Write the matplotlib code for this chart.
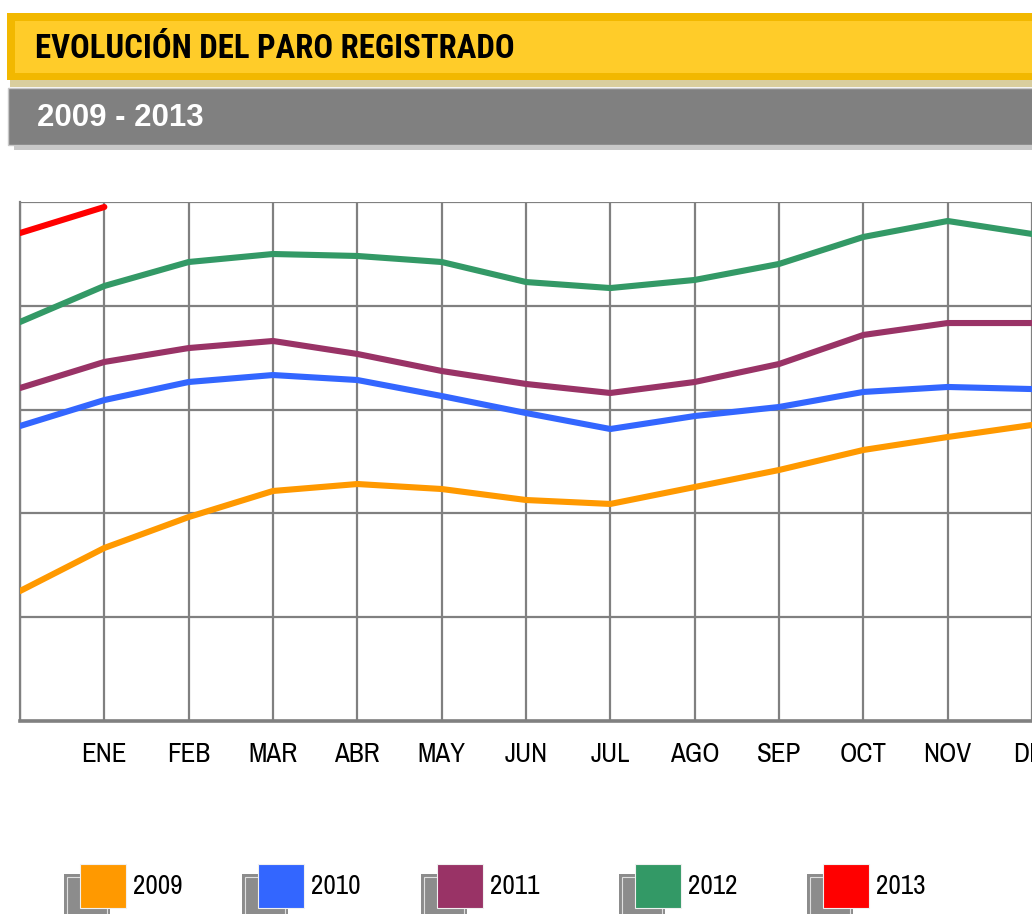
import matplotlib
matplotlib.use("Agg")
import matplotlib.pyplot as plt
from matplotlib.patches import Rectangle

W, H = 1032, 914

months = ["", "ENE", "FEB", "MAR", "ABR", "MAY", "JUN", "JUL", "AGO", "SEP", "OCT", "NOV", "DIC"]
years = ["2009", "2010", "2011", "2012", "2013"]
colors = ["#FF9900", "#3366FF", "#993366", "#339966", "#FF0000"]

s2009 = [1252, 1667, 1965, 2216, 2283, 2235, 2129, 2091, 2254, 2418, 2611, 2736, 2852]
s2010 = [2842, 3092, 3266, 3333, 3285, 3131, 2967, 2813, 2938, 3025, 3170, 3218, 3198]
s2011 = [3208, 3459, 3593, 3661, 3536, 3372, 3247, 3160, 3266, 3439, 3719, 3834, 3834]
s2012 = [3844, 4191, 4422, 4499, 4480, 4422, 4229, 4171, 4249, 4403, 4663, 4817, 4692]
s2013 = [4701, 4952]
series = [s2009, s2010, s2011, s2012, s2013]
yticks = [0, 1000, 2000, 3000, 4000, 5000]

fam = ["Archivo Narrow", "PT Sans Narrow", "DejaVu Sans"]
fam_bold = ["Roboto Condensed", "PT Sans Narrow", "DejaVu Sans"]

fig = plt.figure(figsize=(W / 100, H / 100), dpi=100)


def prect(x, y, w, h, **kw):
    r = Rectangle((x / W, 1 - (y + h) / H), w / W, h / H, transform=fig.transFigure, **kw)
    fig.patches.append(r)
    return r


# header: yellow title bar
prect(10, 80, 1030, 7, facecolor="#D9CE9E", edgecolor="none")
prect(7, 13, 1030, 67, facecolor="#F2B800", edgecolor="none")
prect(15, 21, 1020, 52, facecolor="#FFCC29", edgecolor="none")
fig.text(35 / W, 1 - 49 / H, "EVOLUCIÓN DEL PARO REGISTRADO", family=fam_bold, weight="bold",
         fontsize=23.6, color="black", va="center", ha="left")

# header: grey subtitle bar
prect(14, 145, 1030, 5, facecolor="#C8C8C8", edgecolor="none")
prect(8, 88, 1030, 57, facecolor="#808080", edgecolor="#C8C8C8", linewidth=1)
fig.text(37 / W, 1 - 118 / H, "2009 - 2013", family=["Liberation Sans", "DejaVu Sans"],
         weight="bold", fontsize=22.5, color="white", va="center", ha="left")

# plot area
left_px, top_px, bottom_px = 20, 202, 721
ax = fig.add_axes([left_px / W, 1 - bottom_px / H, (W - left_px) / W, (bottom_px - top_px) / H])
x = list(range(len(months)))
for s, c in zip(series, colors):
    ax.plot(x[:len(s)], s, color=c, linewidth=4.4, solid_capstyle="round", zorder=3)

ax.set_xlim(0, 12)
ax.set_ylim(0, 5000)
ax.set_xticks(x)
ax.set_xticklabels(months, family=fam, fontsize=19.5)
ax.set_yticks(yticks)
ax.set_yticklabels([])
ax.tick_params(length=0, pad=15)
ax.grid(True, color="#808080", linewidth=1.6)
for sp in ["top", "right"]:
    ax.spines[sp].set_visible(False)
ax.spines["left"].set_color("#808080")
ax.spines["left"].set_linewidth(1.6)
ax.spines["bottom"].set_color("#808080")
ax.spines["bottom"].set_linewidth(2.6)
ax.set_facecolor("white")

# custom legend
sq_x = [80, 258, 437, 635, 823]
for xp, c, lab in zip(sq_x, colors, years):
    prect(xp - 16, 874, 46, 44, facecolor="#8C8C8C", edgecolor="none")
    prect(xp - 13, 877, 40, 40, facecolor="none", edgecolor="#E0E0E0", linewidth=0.8)
    prect(xp, 864, 46, 44, facecolor=c, edgecolor="#F0F0F0", linewidth=0.8)
    fig.text((xp + 53) / W, 1 - 887 / H, lab, family=fam, fontsize=19.5, va="center", ha="left")

fig.savefig("out.png", dpi=100)
